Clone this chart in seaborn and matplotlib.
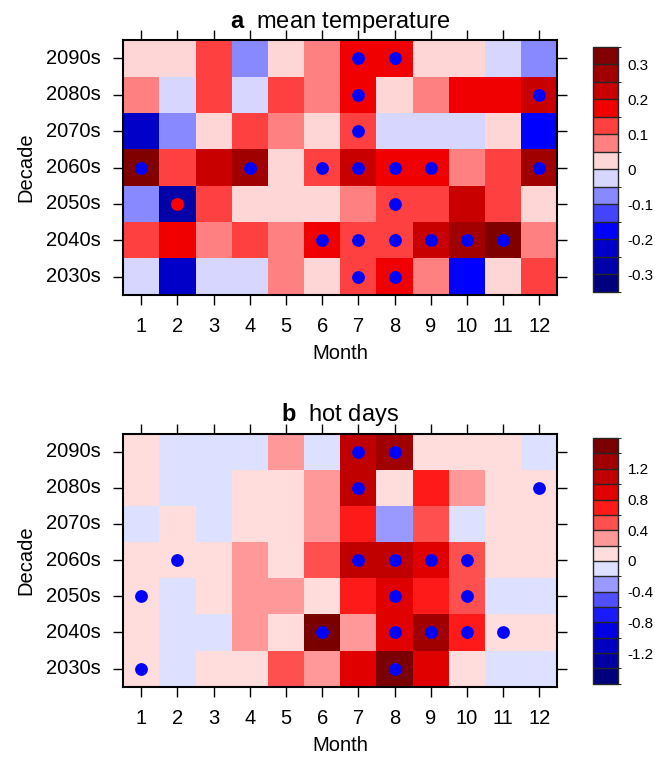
import numpy as np
import pandas as pd
import matplotlib
matplotlib.use('Agg')
import matplotlib.pyplot as plt
from matplotlib.colors import ListedColormap, BoundaryNorm
import seaborn as sns

# rows top to bottom, columns = months 1..12
decades = ['2090s', '2080s', '2070s', '2060s', '2050s', '2040s', '2030s']
months = [str(m) for m in range(1, 13)]

# panel a: mean temperature change
temp = [
    [0.025, 0.025, 0.125, -0.075, 0.025, 0.075, 0.175, 0.175, 0.025, 0.025, -0.025, -0.075],
    [0.075, -0.025, 0.125, -0.025, 0.125, 0.075, 0.175, 0.025, 0.075, 0.175, 0.175, 0.225],
    [-0.225, -0.075, 0.025, 0.125, 0.075, 0.025, 0.125, -0.025, -0.025, -0.025, 0.025, -0.175],
    [0.33, 0.125, 0.225, 0.275, 0.025, 0.125, 0.225, 0.175, 0.175, 0.075, 0.125, 0.275],
    [-0.075, -0.275, 0.125, 0.025, 0.025, 0.025, 0.075, 0.125, 0.125, 0.225, 0.125, 0.025],
    [0.125, 0.175, 0.075, 0.125, 0.075, 0.175, 0.125, 0.125, 0.225, 0.275, 0.33, 0.075],
    [-0.025, -0.225, -0.025, -0.025, 0.075, 0.025, 0.125, 0.175, 0.075, -0.175, 0.025, 0.125],
]
# significant cells (decade, month)
temp_sig_blue = [('2090s', 7), ('2090s', 8), ('2080s', 7), ('2080s', 12), ('2070s', 7),
                 ('2060s', 1), ('2060s', 4), ('2060s', 6), ('2060s', 7), ('2060s', 8),
                 ('2060s', 9), ('2060s', 12), ('2050s', 8), ('2040s', 6), ('2040s', 7),
                 ('2040s', 8), ('2040s', 9), ('2040s', 10), ('2040s', 11),
                 ('2030s', 7), ('2030s', 8)]
temp_sig_red = [('2050s', 2)]

# panel b: hot days change
hot = [
    [0.1, -0.1, -0.1, -0.1, 0.3, -0.1, 1.1, 1.3, 0.1, 0.1, 0.1, -0.1],
    [0.1, -0.1, -0.1, 0.1, 0.1, 0.3, 1.1, 0.1, 0.7, 0.3, 0.1, 0.1],
    [-0.1, 0.1, -0.1, 0.1, 0.1, 0.3, 0.7, -0.3, 0.5, -0.1, 0.1, 0.1],
    [0.1, 0.1, 0.1, 0.3, 0.1, 0.5, 1.1, 1.1, 0.9, 0.5, 0.1, 0.1],
    [0.1, -0.1, 0.1, 0.3, 0.3, 0.1, 0.7, 0.9, 0.7, 0.5, -0.1, -0.1],
    [0.1, -0.1, -0.1, 0.3, 0.1, 1.5, 0.3, 0.9, 1.3, 0.7, 0.1, 0.1],
    [0.1, -0.1, 0.1, 0.1, 0.5, 0.3, 0.9, 1.5, 0.9, 0.1, -0.1, -0.1],
]
hot_sig_blue = [('2090s', 7), ('2090s', 8), ('2080s', 7), ('2080s', 12), ('2060s', 2),
                ('2060s', 7), ('2060s', 8), ('2060s', 9), ('2060s', 10), ('2050s', 1),
                ('2050s', 8), ('2050s', 10), ('2040s', 6), ('2040s', 8), ('2040s', 9),
                ('2040s', 10), ('2040s', 11), ('2030s', 1), ('2030s', 8)]

temp_levels = np.arange(-0.35, 0.351, 0.05)
temp_ticks = [-0.3, -0.2, -0.1, 0, 0.1, 0.2, 0.3]
temp_colors = ['#00007f', '#0000a8', '#0000c8', '#0000ff', '#4444ff', '#8888ff', '#d6d6ff',
               '#ffd6d6', '#ff8080', '#ff4040', '#f00000', '#c80000', '#a00000', '#800000']

hot_levels = np.arange(-1.6, 1.601, 0.2)
hot_ticks = [-1.2, -0.8, -0.4, 0, 0.4, 0.8, 1.2]
hot_colors = ['#00007a', '#0000a0', '#0000c0', '#0000e0', '#1a1aff', '#5050ff', '#9999ff', '#dde0ff',
              '#ffdddd', '#ff9999', '#ff5050', '#ff1a1a', '#e00000', '#c00000', '#a00000', '#7a0000']

sns.set_style('white')
plt.rcParams['font.family'] = ['Liberation Sans', 'DejaVu Sans']
plt.rcParams['mathtext.fontset'] = 'custom'
plt.rcParams['mathtext.bf'] = 'Liberation Sans:bold'
plt.rcParams['mathtext.rm'] = 'Liberation Sans'
plt.rcParams['font.size'] = 14
for key in ['text.color', 'axes.labelcolor', 'xtick.color', 'ytick.color']:
    plt.rcParams[key] = 'black'

fig = plt.figure(figsize=(6.55, 7.58), dpi=100)


def panel(ax, cax, values, colors, levels, ticks, sig_blue, sig_red, letter, title):
    df = pd.DataFrame(values, index=decades, columns=months)
    cmap = ListedColormap(colors)
    norm = BoundaryNorm(levels, cmap.N)
    sns.heatmap(df, ax=ax, cmap=cmap, norm=norm, cbar_ax=cax,
                cbar_kws={'drawedges': True, 'ticks': ticks})
    for sig, col in [(sig_blue, 'blue'), (sig_red, 'red')]:
        if sig:
            xs = [m - 0.5 for d, m in sig]
            ys = [decades.index(d) + 0.5 for d, m in sig]
            ax.scatter(xs, ys, s=85, color=col, zorder=3, linewidths=0)
    for s in ax.spines.values():
        s.set_visible(True)
        s.set_linewidth(1.5)
        s.set_color('black')
    ax.tick_params(direction='out', length=7, width=1, top=True, right=True,
                   bottom=True, left=True, labelsize=14.5, pad=9)
    ax.set_xticklabels(months, rotation=0)
    ax.set_yticklabels(decades, rotation=0)
    ax.set_xlabel('Month', fontsize=14.5, labelpad=6)
    ax.set_ylabel('Decade', fontsize=14.5, labelpad=8)
    ax.set_title(r'$\mathbf{' + letter + r'}$  ' + title, fontsize=17, pad=9)
    cb = ax.collections[0].colorbar
    cb.outline.set_linewidth(1)
    cb.dividers.set_linewidth(1)
    cb.ax.tick_params(length=0, labelsize=11, pad=7)
    cb.ax.set_yticklabels([('%g' % t) for t in ticks])


ax1 = fig.add_axes([0.188, 0.611, 0.663, 0.336])
cax1 = fig.add_axes([0.905, 0.615, 0.038, 0.323])
panel(ax1, cax1, temp, temp_colors, temp_levels, temp_ticks,
      temp_sig_blue, temp_sig_red, 'a', 'mean temperature')

ax2 = fig.add_axes([0.188, 0.094, 0.663, 0.334])
cax2 = fig.add_axes([0.905, 0.098, 0.038, 0.324])
panel(ax2, cax2, hot, hot_colors, hot_levels, hot_ticks,
      hot_sig_blue, [], 'b', 'hot days')

fig.savefig('out.png', dpi=100)
